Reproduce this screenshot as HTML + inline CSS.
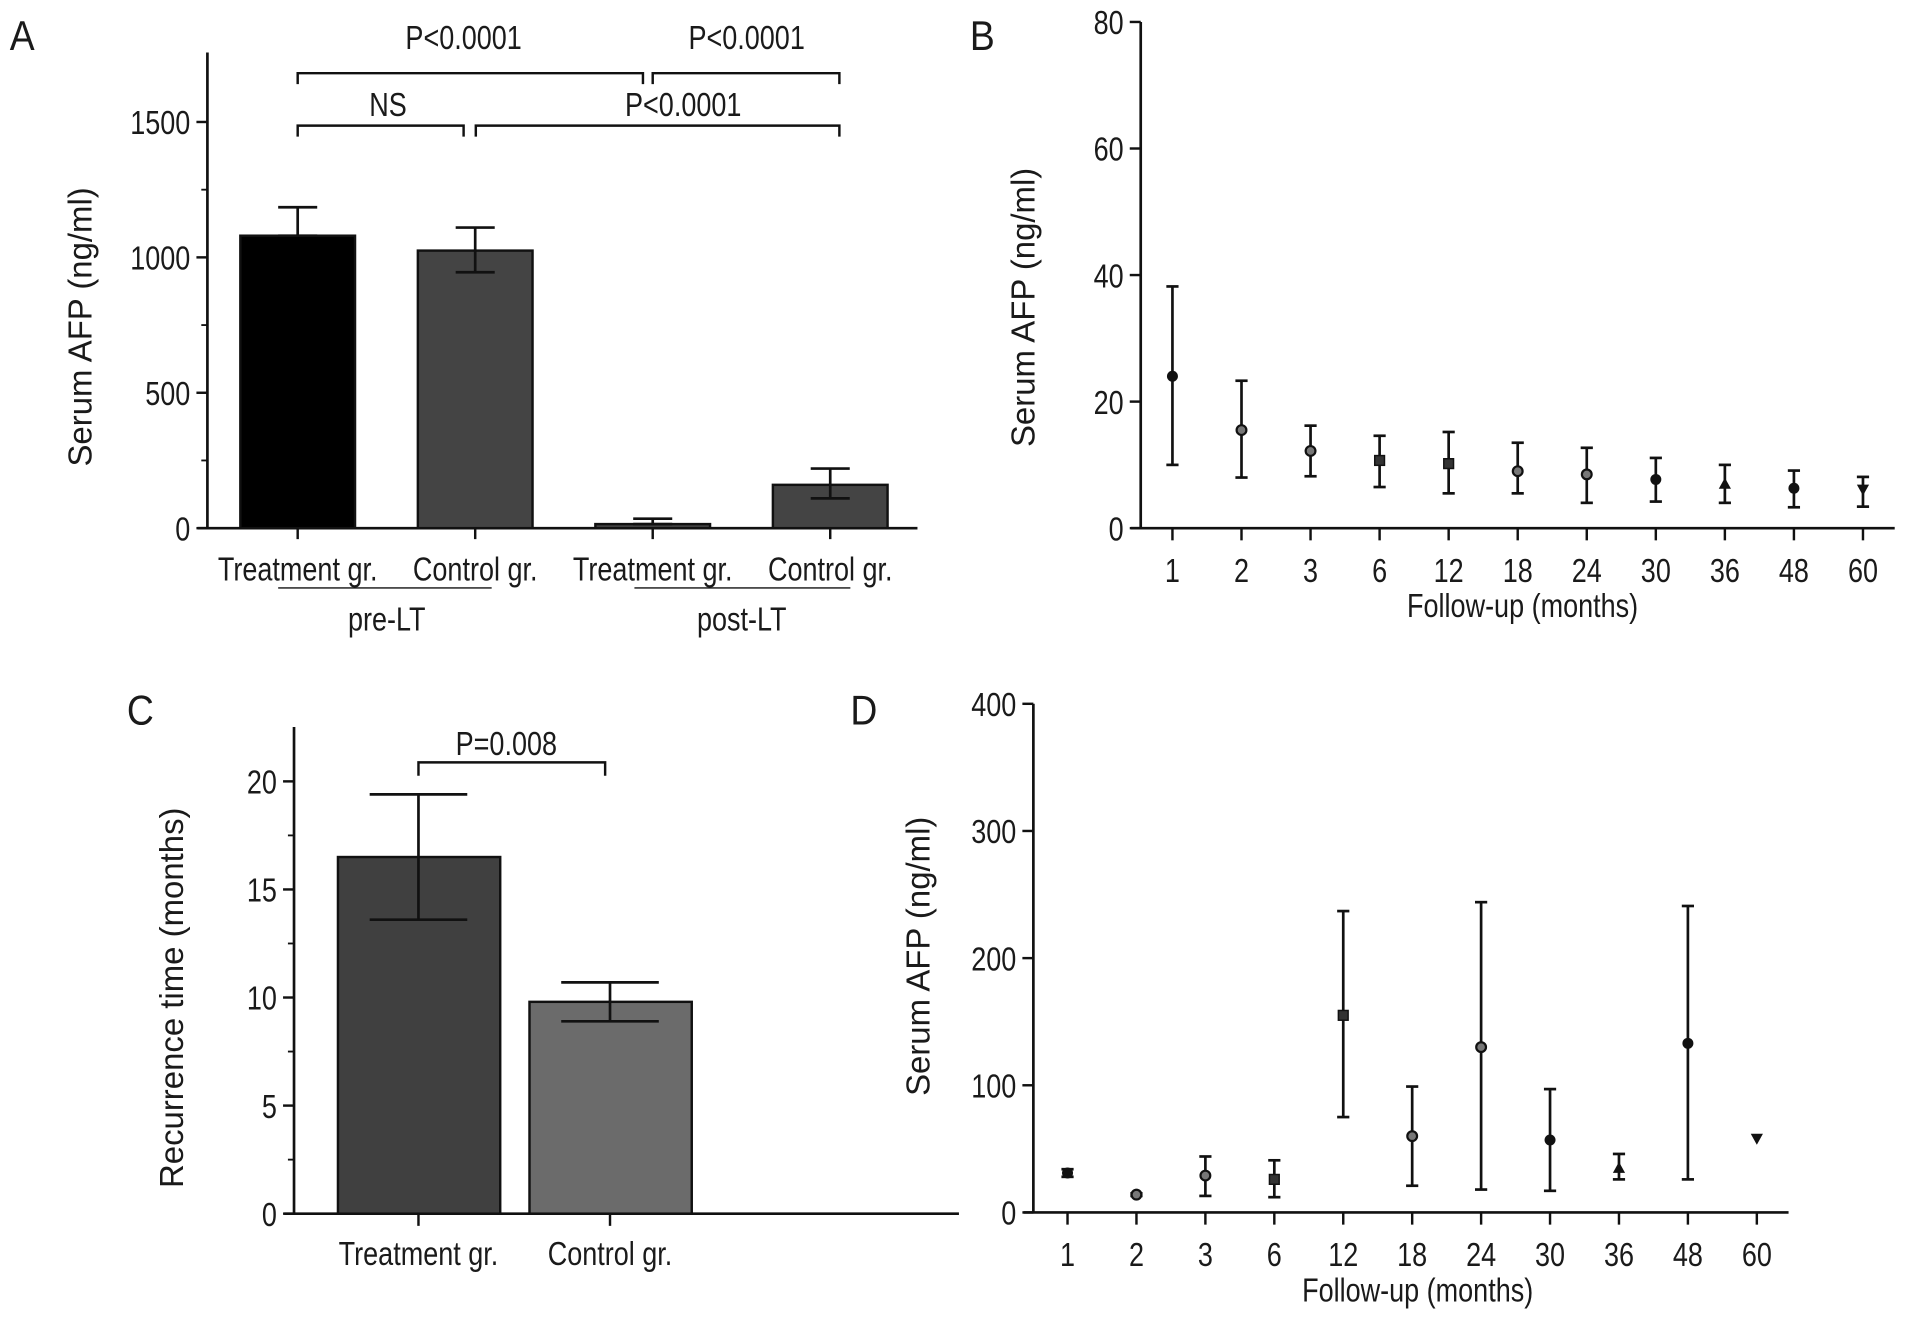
<!DOCTYPE html>
<html><head><meta charset="utf-8"><style>
html,body{margin:0;padding:0;background:#fff;}
svg{display:block;}
text{font-family:"Liberation Sans",sans-serif;fill:#1a1a1a;}
</style></head><body>
<svg id="fig" width="1913" height="1321" viewBox="0 0 1568 1083" preserveAspectRatio="none" xmlns="http://www.w3.org/2000/svg">
<g id="labels"></g>
<g id="pa"></g>
<g id="pb"></g>
<g id="pc"></g>
<g id="pd"></g>
</svg>
<script>
// Panel A data
const aCategories = ["Treatment gr.","Control gr.","Treatment gr.","Control gr."];
const aMeans = [1080,1025,15,160];
const aLow = [1080,945,15,110];
const aHigh = [1185,1110,35,220];
const aTicks = [0,500,1000,1500];
const aColors = ["#000","#444","#444","#444"];
// Panel B data
const bCategories = ["1","2","3","6","12","18","24","30","36","48","60"];
const bMeans = [24,15.5,12.2,10.7,10.2,9,8.5,7.7,7,6.3,6.1];
const bLow = [10,8,8.2,6.5,5.5,5.5,4,4.2,4,3.3,3.4];
const bHigh = [38.2,23.3,16.2,14.6,15.2,13.5,12.7,11.1,10,9.1,8.1];
const bTicks = [0,20,40,60,80];
// Panel C data
const cCategories = ["Treatment gr.","Control gr."];
const cMeans = [16.5,9.8];
const cLow = [13.6,8.9];
const cHigh = [19.4,10.7];
const cTicks = [0,5,10,15,20];
// Panel D data
const dCategories = ["1","2","3","6","12","18","24","30","36","48","60"];
const dMeans = [31,14,29,26,155,60,130,57,35,133,58];
const dLow = [28,13,13,12,75,21,18,17,26,26,null];
const dHigh = [34,15,44,41,237,99,244,97,46,241,null];
const dTicks = [0,100,200,300,400];
const markers = ["dot","circ","circ","sq","sq","circ","circ","dot","tri","dot","tridown"];

const NS="http://www.w3.org/2000/svg";
function mk(parent,tag,attrs,txt){const e=document.createElementNS(NS,tag);for(const k in attrs)e.setAttribute(k,attrs[k]);if(txt!==undefined)e.textContent=txt;parent.appendChild(e);return e;}
function line(g,x1,y1,x2,y2,w){return mk(g,'line',{x1,y1,x2,y2,stroke:'#111','stroke-width':w||2});}
function txt(g,x,y,anchor,s,size,sx,rot){
  const tr=`translate(${x} ${y})`+(rot?' rotate(-90)':'')+` scale(${sx} 1)`;
  return mk(g,'text',{x:0,y:0,'text-anchor':anchor,'font-size':size,transform:tr},s);
}
const TS=27, SX=0.82;

const L=document.getElementById('labels');
[["A",8,41],["B",795,41],["C",104,594],["D",697,594]].forEach(a=>{
  const t=txt(L,a[1],a[2],'start',a[0],34,0.9);
  
  
});

function axes(g,x0,yTop,y0,xEnd,ticks,yScale,minorStep,minorMax,title,titleX,titleY,nameP){
  line(g,x0,yTop,x0,y0,2.2);
  line(g,x0-8,y0,xEnd,y0,2.2);
  ticks.forEach(v=>{const y=yScale(v);line(g,x0-9,y,x0,y,2);
    const t=txt(g,x0-14,y+10,'end',String(v),TS,SX);
    
    });
  if(minorStep){for(let v=minorStep;v<minorMax;v+=minorStep*2){line(g,x0-5,yScale(v),x0,yScale(v),1.5);}}
  const tt=txt(g,titleX,titleY,'middle',title,27,1,true);
  
  
}
function errbar(g,x,yl,yh,cap,w){line(g,x,yl,x,yh,w||2);line(g,x-cap,yh,x+cap,yh,w||2.5);line(g,x-cap,yl,x+cap,yl,w||2.5);}

// Panel A
(function(){
  const g=document.getElementById('pa');
  const x0=170,y0=433,yS=v=>y0-v*(111/500);
  axes(g,x0,43,y0,752,aTicks,yS,250,1600,"Serum AFP (ng/ml)",75,268,'panel-a');
  const cx=i=>244+i*145.5;
  aMeans.forEach((v,i)=>{
    const r=mk(g,'rect',{x:cx(i)-47,y:yS(v),width:94,height:y0-yS(v),fill:aColors[i],stroke:'#111','stroke-width':2});
    
    
    errbar(g,cx(i),yS(aLow[i]),yS(aHigh[i]),16,2.2);
    line(g,cx(i),y0,cx(i),y0+9,2);
    const t=txt(g,cx(i),476,'middle',aCategories[i],TS,SX);
    
    
  });
  line(g,228,482,403,482,1.2);line(g,520,482,697,482,1.2);
  txt(g,317,517,'middle','pre-LT',TS,SX);
  txt(g,608,517,'middle','post-LT',TS,SX);
  function br(x1,x2,y,s,tx,ty){const p=mk(g,'path',{d:`M${x1} ${y+9}V${y}H${x2}V${y+9}`,fill:'none',stroke:'#111','stroke-width':2});
    
    
    txt(g,tx,ty,'middle',s,TS,SX);}
  br(244,527,60,'P<0.0001',380,40);
  br(535,688,60,'P<0.0001',612,40);
  br(244,380,103,'NS',318,95);
  br(390,688,103,'P<0.0001',560,95);
})();

function scatter(gid,cats,means,low,high,ticks,x0,yTop,y0,xEnd,ymax,firstX,dx,nameP,titleX,titleY,xtX,xtY){
  const g=document.getElementById(gid);
  const yS=v=>y0-v*((y0-yTop)/ymax);
  axes(g,x0,yTop,y0,xEnd,ticks,yS,0,0,"Serum AFP (ng/ml)",titleX,titleY,nameP);
  const cx=i=>firstX+i*dx;
  cats.forEach((c,i)=>{
    line(g,cx(i),y0,cx(i),y0+10,2);
    const t=txt(g,cx(i),y0+44,'middle',c,TS,SX);
    
    
    if(low[i]!==null){errbar(g,cx(i),yS(low[i]),yS(high[i]),5,2.2);}
    const x=cx(i),y=yS(means[i]);let m;
    const k=markers[i];
    if(k==='sq')m=mk(g,'rect',{x:x-4,y:y-4,width:8,height:8,fill:'#333',stroke:'#111','stroke-width':1.2});
    else if(k==='circ')m=mk(g,'circle',{cx:x,cy:y,r:4,fill:'#777',stroke:'#111','stroke-width':1.8});
    else if(k==='tri')m=mk(g,'path',{d:`M${x} ${y-5}L${x+5} ${y+4}L${x-5} ${y+4}Z`,fill:'#111'});
    else if(k==='tridown')m=mk(g,'path',{d:`M${x-5} ${y-4}L${x+5} ${y-4}L${x} ${y+5}Z`,fill:'#111'});
    else m=mk(g,'circle',{cx:x,cy:y,r:4.5,fill:'#111'});
    
    
  });
  const xt=txt(g,xtX,xtY,'middle','Follow-up (months)',TS,SX);
  
  
}
scatter('pb',bCategories,bMeans,bLow,bHigh,bTicks,935,18,433,1553,80,961,56.6,'panel-b',848,252,1248,506);
scatter('pd',dCategories,dMeans,dLow,dHigh,dTicks,847,577,994,1466,400,875,56.5,'panel-d',762,784,1162,1067);

// Panel C
(function(){
  const g=document.getElementById('pc');
  const x0=241,y0=995,yS=v=>y0-v*17.72;
  axes(g,x0,596,y0,786,cTicks,yS,2.5,22,"Recurrence time (months)",150,818,'panel-c');
  const cols=["#404040","#6b6b6b"],cx=[343,500];
  cMeans.forEach((v,i)=>{
    const r=mk(g,'rect',{x:cx[i]-66,y:yS(v),width:133,height:y0-yS(v),fill:cols[i],stroke:'#111','stroke-width':2});
    
    
    errbar(g,cx[i],yS(cLow[i]),yS(cHigh[i]),40,2.2);
    line(g,cx[i],y0,cx[i],y0+10,2);
    const t=txt(g,cx[i],1037,'middle',cCategories[i],TS,SX);
    
    
  });
  const p=mk(g,'path',{d:'M343 636V625H496V636',fill:'none',stroke:'#111','stroke-width':2});
  
  
  txt(g,415,619,'middle','P=0.008',TS,SX);
})();
</script>
</body></html>
